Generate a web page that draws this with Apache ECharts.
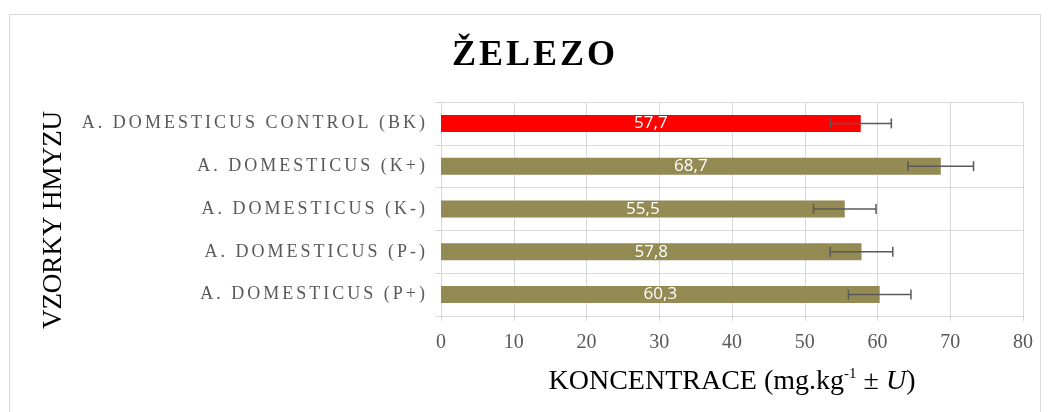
<!DOCTYPE html>
<html>
<head>
<meta charset="utf-8">
<script src="https://cdn.jsdelivr.net/npm/echarts@6/dist/echarts.min.js"></script>
<style>
  html, body { margin: 0; padding: 0; background: #fff; }
  #chart { width: 1049px; height: 412px; }
</style>
</head>
<body>
<div id="chart"></div>
<script>
// data, top to bottom as in the picture
const categories = [
  'A. DOMESTICUS CONTROL (BK)',
  'A. DOMESTICUS (K+)',
  'A. DOMESTICUS (K-)',
  'A. DOMESTICUS (P-)',
  'A. DOMESTICUS (P+)'
];
const values = [57.7, 68.7, 55.5, 57.8, 60.3];
const uncertainty = [4.2, 4.5, 4.3, 4.3, 4.3];
const barColors = ['#ff0000', '#948a54', '#948a54', '#948a54', '#948a54'];
const xTicks = [0, 10, 20, 30, 40, 50, 60, 70, 80];

const chart = echarts.init(document.getElementById('chart'));

// wide tracking, as in the original (hair spaces between letters)
const spaced = (s, gap) => s.split('').join(gap);

const option = {
  animation: false,
  graphic: [
    {
      type: 'rect',
      shape: { x: 9.5, y: 14.5, width: 1031, height: 420 },
      style: { fill: 'none', stroke: '#d9d9d9', lineWidth: 1 }
    },
    {
      type: 'text',
      x: 54,
      y: 220,
      rotation: Math.PI / 2,
      style: {
        text: 'VZORKY HMYZU',
        fontFamily: 'Liberation Serif',
        fontSize: 27,
        fill: '#000',
        align: 'center',
        verticalAlign: 'middle'
      }
    }
  ],
  title: {
    text: spaced('ŽELEZO', '\u200a'),
    left: 447,
    top: 33,
    textStyle: {
      fontFamily: 'Liberation Serif',
      fontWeight: 'bold',
      fontSize: 36,
      color: '#000'
    }
  },
  grid: { left: 441, right: 26, top: 102, bottom: 96 },
  xAxis: {
    type: 'value',
    min: 0,
    max: 80,
    interval: 10,
    axisLine: { show: true, lineStyle: { color: '#d9d9d9' } },
    axisTick: { show: true, length: 5, lineStyle: { color: '#d9d9d9' } },
    splitLine: { lineStyle: { color: '#d9d9d9', width: 1 } },
    axisLabel: {
      color: '#595959',
      fontFamily: 'Liberation Serif',
      fontSize: 20,
      margin: 17,
      formatter: v => xTicks.includes(v) ? String(v) : ''
    },
    name: '{a|KONCENTRACE (mg.kg}{s|-1}{a| ± }{i|U}{a|)}',
    nameLocation: 'middle',
    nameGap: 51,
    nameTextStyle: {
      rich: {
        a: { fontFamily: 'Liberation Serif', fontSize: 28, color: '#000' },
        s: { fontFamily: 'Liberation Serif', fontSize: 15, color: '#000', verticalAlign: 'top', padding: [0, 0, 14, 0] },
        i: { fontFamily: 'Liberation Serif', fontSize: 28, color: '#000', fontStyle: 'italic' }
      }
    }
  },
  yAxis: {
    type: 'category',
    data: categories,
    inverse: true,
    axisLine: { show: true, lineStyle: { color: '#d9d9d9' } },
    axisTick: { show: true, length: 6, lineStyle: { color: '#d9d9d9' } },
    splitLine: { show: true, lineStyle: { color: '#d9d9d9' } },
    axisLabel: {
      color: '#595959',
      fontFamily: 'Liberation Serif',
      fontSize: 18,
      margin: 16,
      formatter: s => spaced(s, '\u200a\u200a')
    }
  },
  series: [
    {
      type: 'bar',
      barWidth: 17,
      data: values.map((v, i) => ({ value: v, itemStyle: { color: barColors[i] } })),
      label: {
        show: true,
        position: 'inside',
        color: '#fff',
        fontFamily: 'Open Sans',
        fontSize: 17,
        formatter: p => String(p.value).replace('.', ',')
      },
      z: 2
    },
    {
      // error bars: value ± uncertainty
      type: 'custom',
      data: values.map((v, i) => [v - uncertainty[i], v + uncertainty[i], i]),
      encode: { x: [0, 1], y: 2 },
      z: 3,
      renderItem: (params, api) => {
        const lo = api.coord([api.value(0), api.value(2)]);
        const hi = api.coord([api.value(1), api.value(2)]);
        const h = 5;
        const style = { stroke: '#595959', lineWidth: 1.5 };
        return {
          type: 'group',
          children: [
            { type: 'line', shape: { x1: lo[0], y1: lo[1], x2: hi[0], y2: hi[1] }, style },
            { type: 'line', shape: { x1: lo[0], y1: lo[1] - h, x2: lo[0], y2: lo[1] + h }, style },
            { type: 'line', shape: { x1: hi[0], y1: hi[1] - h, x2: hi[0], y2: hi[1] + h }, style }
          ]
        };
      }
    }
  ]
};

chart.setOption(option);
window.addEventListener('resize', () => chart.resize());
</script>
</body>
</html>
